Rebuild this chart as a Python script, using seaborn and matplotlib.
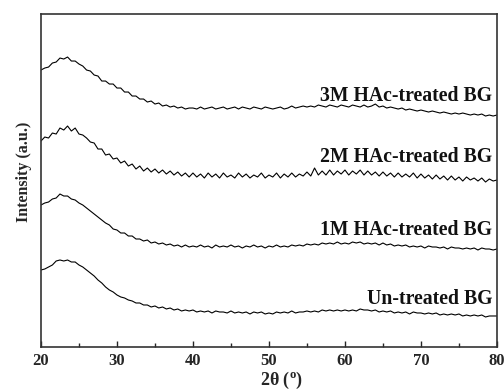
import numpy as np
import pandas as pd
import matplotlib
matplotlib.use("Agg")
import matplotlib.pyplot as plt
import seaborn as sns

two_theta = np.arange(20, 80.01, 0.5)

untreated = [77, 78, 80, 82, 86, 87, 86, 87, 85, 85, 82, 80, 77, 74, 71, 67, 64, 60, 57, 55,
             52, 50, 49, 47, 46, 44, 44, 42, 42, 40, 41, 39, 40, 38, 39, 37, 38, 36, 37, 36,
             37, 35, 36, 35, 36, 34, 36, 35, 35, 34, 36, 34, 35, 34, 35, 33, 35, 34, 35, 33,
             34, 33, 35, 34, 35, 34, 36, 34, 35, 35, 36, 35, 36, 35, 37, 36, 37, 36, 37, 36,
             37, 36, 37, 36, 38, 37, 37, 36, 37, 35, 36, 35, 36, 34, 35, 34, 35, 33, 35, 34,
             34, 33, 34, 33, 34, 32, 33, 32, 33, 32, 33, 31, 32, 31, 32, 31, 32, 30, 31, 31, 31]

m1 = [142, 144, 145, 148, 149, 153, 151, 151, 148, 147, 144, 142, 139, 136, 133, 130, 127, 124, 122, 118,
      117, 114, 114, 111, 111, 108, 108, 106, 107, 104, 105, 103, 104, 102, 103, 101, 102, 100, 102, 100,
      101, 100, 102, 100, 101, 99, 102, 100, 101, 100, 102, 100, 101, 99, 101, 100, 102, 100, 101, 99,
      101, 100, 102, 100, 101, 100, 102, 101, 102, 101, 103, 102, 103, 102, 104, 103, 104, 103, 105, 103,
      104, 103, 105, 104, 105, 103, 104, 103, 104, 102, 104, 102, 103, 101, 102, 101, 102, 100, 101, 100,
      101, 99, 101, 100, 100, 99, 100, 98, 100, 99, 99, 98, 99, 98, 99, 97, 99, 98, 98, 97, 98]

m2 = [206, 210, 209, 214, 213, 219, 217, 221, 216, 219, 213, 212, 209, 205, 204, 198, 198, 192, 193, 188,
      189, 184, 186, 181, 183, 178, 181, 176, 179, 175, 178, 174, 177, 173, 176, 172, 175, 171, 174, 170,
      174, 170, 173, 169, 174, 170, 173, 169, 174, 170, 172, 169, 174, 170, 173, 169, 172, 170, 174, 169,
      172, 170, 174, 169, 173, 170, 174, 170, 173, 171, 175, 171, 179, 172, 176, 172, 177, 172, 176, 173,
      177, 172, 176, 173, 177, 172, 176, 172, 175, 171, 175, 171, 174, 170, 174, 170, 173, 170, 174, 169,
      173, 169, 172, 168, 172, 168, 171, 167, 171, 167, 170, 166, 170, 167, 169, 166, 169, 165, 168, 166, 167]

m3 = [277, 279, 280, 284, 285, 289, 288, 290, 286, 286, 283, 281, 277, 276, 272, 271, 266, 266, 263, 263,
      259, 259, 255, 255, 251, 251, 248, 248, 245, 246, 243, 244, 241, 242, 240, 241, 239, 240, 238, 239,
      239, 238, 240, 238, 239, 240, 238, 239, 240, 238, 239, 240, 238, 240, 239, 238, 240, 239, 238, 240,
      239, 238, 239, 240, 238, 239, 241, 239, 240, 241, 240, 241, 240, 242, 241, 240, 242, 241, 240, 242,
      241, 240, 242, 241, 240, 242, 240, 241, 243, 240, 241, 239, 240, 239, 238, 239, 237, 238, 237, 236,
      237, 236, 235, 236, 235, 234, 235, 234, 233, 234, 233, 234, 233, 232, 233, 232, 233, 231, 232, 231, 232]

series_names = ["Un-treated BG", "1M HAc-treated BG", "2M HAc-treated BG", "3M HAc-treated BG"]
series_values = [untreated, m1, m2, m3]
label_y = [48, 117, 190, 251]

x_ticks = [20, 30, 40, 50, 60, 70, 80]

sns.set_style("ticks")
plt.rcParams['font.family'] = ['Liberation Serif', 'DejaVu Serif']
plt.rcParams['mathtext.fontset'] = 'custom'
plt.rcParams['mathtext.rm'] = 'Liberation Serif:bold'

fig = plt.figure(figsize=(5.04, 3.9), dpi=100)
ax = fig.add_axes([0.0813, 0.1103, 0.9047, 0.8537])

for name, vals in zip(series_names, series_values):
    assert len(vals) == len(two_theta)
    df = pd.DataFrame({"x": two_theta, "y": vals})
    sns.lineplot(data=df, x="x", y="y", ax=ax, color="black", linewidth=0.8, estimator=None, sort=False)

for name, ly in zip(series_names, label_y):
    ax.text(79.4, ly, name, ha="right", va="center", fontsize=14.2, fontweight="bold", color="#111111")

ax.set_xlim(20, 80)
ax.set_ylim(0, 333)
ax.set_xticks(x_ticks)
ax.set_xticks(np.arange(25, 80, 10), minor=True)
ax.set_xticklabels([str(t) for t in x_ticks], fontsize=12, fontweight="bold")
ax.set_yticks([])
ax.tick_params(axis="x", which="major", direction="in", length=4, width=1.0, pad=4)
ax.tick_params(axis="x", which="minor", direction="in", length=3, width=1.0)
for s in ax.spines.values():
    s.set_linewidth(1.2)
    s.set_color("#333333")

ax.set_xlabel(r"2θ ($^{\rm o}$)", fontsize=13, fontweight="bold")
ax.xaxis.set_label_coords(0.528, -0.068)
ax.set_ylabel("Intensity (a.u.)", fontsize=11.5, fontweight="bold")
ax.yaxis.set_label_coords(-0.02, 0.526)

fig.savefig("out.png", dpi=100)
